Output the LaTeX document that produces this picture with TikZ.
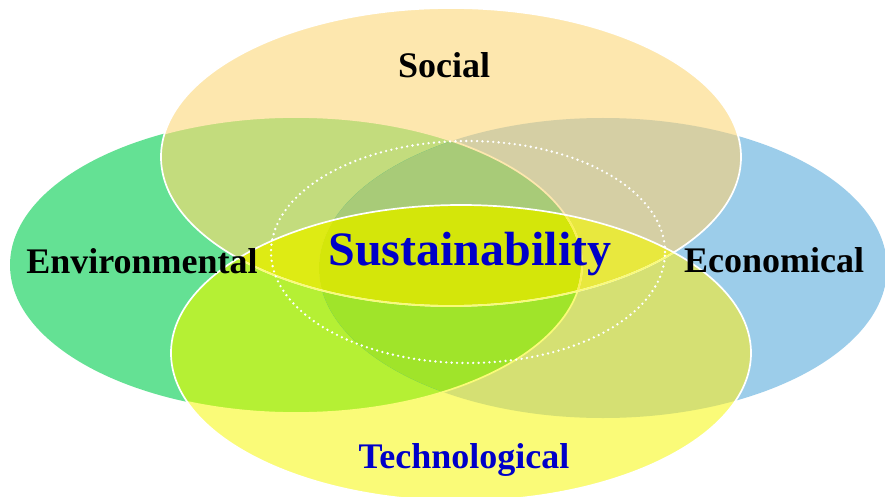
\documentclass[tikz,border=0pt]{standalone}
\usepackage{fontspec}
\setmainfont{Liberation Serif}
\definecolor{cS}{RGB}{253,231,174}
\definecolor{cE}{RGB}{100,225,148}
\definecolor{cC}{RGB}{156,205,234}
\definecolor{cT}{RGB}{250,251,120}
\definecolor{cSE}{RGB}{195,220,125}
\definecolor{cSC}{RGB}{213,207,164}
\definecolor{cTE}{RGB}{181,240,52}
\definecolor{cTC}{RGB}{213,224,115}
\definecolor{cEC}{RGB}{60,190,110}
\definecolor{cST}{RGB}{249,241,84}
\definecolor{cSEC}{RGB}{168,203,120}
\definecolor{cTEC}{RGB}{160,228,42}
\definecolor{cSTE}{RGB}{222,235,20}
\definecolor{cSTC}{RGB}{232,232,62}
\definecolor{cSTEC}{RGB}{212,230,10}
\definecolor{tblue}{RGB}{0,0,200}
\begin{document}
\begin{tikzpicture}[x=1pt,y=-1pt,
  lbl/.style={font=\bfseries\fontsize{36}{40}\selectfont, anchor=base, inner sep=0pt},
  ring/.style={line width=1.7pt},
  dotring/.style={white, line width=2.6pt, line cap=round, dash pattern=on 0pt off 5.4pt}]
\def\pS{(451,157) ellipse (290pt and 149pt)}
\def\pE{(296,265) ellipse (286pt and 148pt)}
\def\pC{(603,268) ellipse (284pt and 150pt)}
\def\pT{(461,353) ellipse (290pt and 148pt)}
\useasboundingbox (0,0) rectangle (885,497);
\fill[white] (0,0) rectangle (885,497);
% single regions
\fill[cE] \pE;
\fill[cC] \pC;
\fill[cS] \pS;
\fill[cT] \pT;
% pairwise overlaps
\begin{scope}\clip \pS; \fill[cSE] \pE; \end{scope}
\begin{scope}\clip \pS; \fill[cSC] \pC; \end{scope}
\begin{scope}\clip \pT; \fill[cTE] \pE; \end{scope}
\begin{scope}\clip \pT; \fill[cTC] \pC; \end{scope}
\begin{scope}\clip \pE; \fill[cEC] \pC; \end{scope}
\begin{scope}\clip \pS; \fill[cST] \pT; \end{scope}
% triple overlaps
\begin{scope}\clip \pS; \clip \pE; \fill[cSEC] \pC; \end{scope}
\begin{scope}\clip \pT; \clip \pE; \fill[cTEC] \pC; \end{scope}
\begin{scope}\clip \pS; \clip \pT; \fill[cSTE] \pE; \end{scope}
\begin{scope}\clip \pS; \clip \pT; \fill[cSTC] \pC; \end{scope}
% all four
\begin{scope}\clip \pS; \clip \pT; \clip \pE; \fill[cSTEC] \pC; \end{scope}
% outlines
\begin{scope}\clip \pS; \draw[ring, cS] \pE; \end{scope}
\begin{scope}\clip \pT; \draw[ring, cT] \pE; \end{scope}
\begin{scope}\clip \pS; \clip \pT; \draw[ring, cST] \pE; \end{scope}
\draw[ring, white] \pS;
\begin{scope}\clip \pT; \draw[ring, cT] \pS; \end{scope}
\draw[ring, white] \pT;
\draw[dotring] (468,252) ellipse (197pt and 111pt);
% labels
\node[lbl] (social) at (444,78) {Social};
\node[lbl] (env) at (142,273) {Environmental};
\node[lbl] (eco) at (774,272) {Economical};
\node[lbl, text=tblue, font=\bfseries\fontsize{48}{52}\selectfont] (sus) at (470,265) {Sustainability};
\node[lbl, text=tblue] (tech) at (464,468) {Technological};
\end{tikzpicture}
\end{document}
